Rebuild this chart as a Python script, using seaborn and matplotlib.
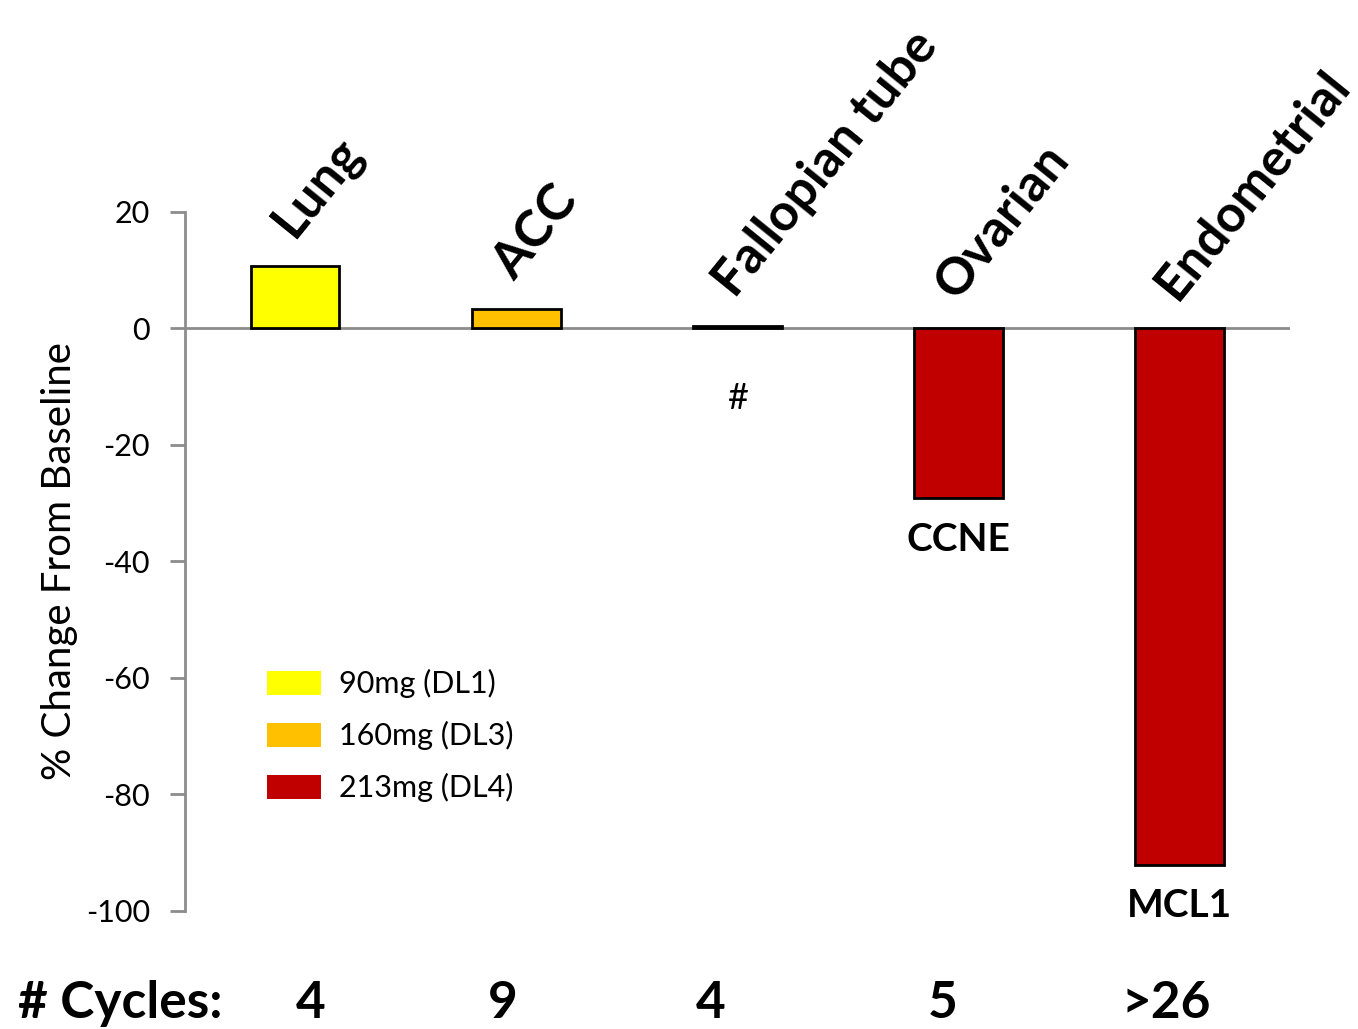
import matplotlib
matplotlib.use("Agg")
import matplotlib.pyplot as plt
import matplotlib.transforms as mtransforms
from matplotlib.patches import Patch
import pandas as pd
import seaborn as sns

# data
tumors = ["Lung", "ACC", "Fallopian tube", "Ovarian", "Endometrial"]
pct_change = [10.8, 3.4, 0.5, -29.2, -92.1]
dose = ["90mg (DL1)", "160mg (DL3)", "160mg (DL3)", "213mg (DL4)", "213mg (DL4)"]
cycles = ["4", "9", "4", "5", ">26"]
cycle_pos = [0.07, 0.94, 1.88, 2.93, 3.94]
notes = ["", "", "#", "CCNE", "MCL1"]

dose_levels = ["90mg (DL1)", "160mg (DL3)", "213mg (DL4)"]
dose_colors = ["#FFFF00", "#FFC000", "#C00000"]

sns.set_theme(style="white", rc={
    "text.color": "black", "axes.labelcolor": "black",
    "ytick.color": "black", "axes.unicode_minus": False,
})
plt.rcParams["font.family"] = ["Lato", "DejaVu Sans"]

df = pd.DataFrame({"tumor": tumors, "change": pct_change, "dose": dose})

fig = plt.figure(figsize=(13.58, 10.29), dpi=100)
ax = fig.add_axes([0.136, 0.115, 0.814, 0.679])

sns.barplot(
    data=df, x="tumor", y="change", hue="dose", hue_order=dose_levels,
    palette=dose_colors, saturation=1, dodge=False, width=0.4,
    edgecolor="black", linewidth=2, legend=False, ax=ax,
)

ax.set_xlim(-0.5, 4.5)
ax.set_ylim(-100, 20)
ax.set_yticks(range(-100, 21, 20))
ax.axhline(0, color="#8c8c8c", lw=2, zorder=0)
for side in ["top", "right", "bottom"]:
    ax.spines[side].set_visible(False)
ax.spines["left"].set_color("#8c8c8c")
ax.spines["left"].set_linewidth(2)
ax.tick_params(axis="y", left=True, length=11, width=2, color="#8c8c8c",
               labelcolor="black", labelsize=22, pad=14)
ax.set_xticks([])
ax.set_xlabel("")
ax.set_ylabel("% Change From Baseline", fontsize=29, labelpad=6)

# rotated tumor names above bars
for i, (name, v) in enumerate(zip(tumors, pct_change)):
    ax.text(i - 0.01, max(v, 0) + 4.5, name, rotation=51, rotation_mode="anchor",
            ha="left", va="baseline", fontsize=37, fontweight="bold")

# annotations below bars
for i, (note, v) in enumerate(zip(notes, pct_change)):
    if not note:
        continue
    if note == "#":
        ax.text(i, -12, note, ha="center", va="center", fontsize=26)
    else:
        ax.text(i, v - 7, note, ha="center", va="center", fontsize=28,
                fontweight="bold")

# cycles row
trans = mtransforms.blended_transform_factory(ax.transData, fig.transFigure)
fig.text(0.013, 0.025, "# Cycles:", fontsize=37, fontweight="bold",
         ha="left", va="center")
for x, c in zip(cycle_pos, cycles):
    ax.text(x, 0.025, c, transform=trans, fontsize=37, fontweight="bold",
            ha="center", va="center")

handles = [Patch(facecolor=c, edgecolor="none") for c in dose_colors]
ax.legend(handles, dose_levels, loc="upper left", bbox_to_anchor=(0.05, 0.385),
          frameon=False, fontsize=22, handlelength=1.75, handleheight=0.85,
          handletextpad=0.6, labelspacing=0.75)

fig.savefig("out.png", dpi=100)
